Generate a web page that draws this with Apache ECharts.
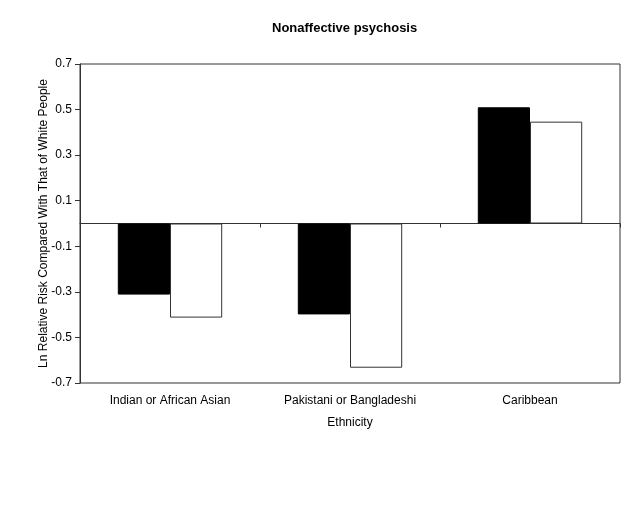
<!DOCTYPE html>
<html>
<head>
<meta charset="utf-8">
<script src="https://cdn.jsdelivr.net/npm/echarts@6/dist/echarts.min.js"></script>
<style>
  html, body { margin: 0; padding: 0; background: #fff; }
  #chart { width: 640px; height: 505px; }
</style>
</head>
<body>
<div id="chart"></div>
<script>
// Chart data
const categories = ['Indian or African Asian', 'Pakistani or Bangladeshi', 'Caribbean'];
const blackSeries = [-0.312, -0.399, 0.51];
const whiteSeries = [-0.413, -0.633, 0.447];
const yTicks = { min: -0.7, max: 0.7, interval: 0.2 };

const fontFamily = 'Liberation Sans, Arial, sans-serif';

const chart = echarts.init(document.getElementById('chart'));

const option = {
    backgroundColor: '#fff',
    animation: false,
    title: {
        text: 'Nonaffective psychosis',
        left: 267,
        top: 17,
        textStyle: { fontFamily, fontSize: 13, fontWeight: 'bold', color: '#000' }
    },
    grid: {
        left: 80,
        right: 20,
        top: 64,
        bottom: 122,
        show: true,
        borderColor: '#333',
        borderWidth: 1
    },
    xAxis: [
        {
            // bottom axis: category labels + axis title
            type: 'category',
            data: categories,
            position: 'bottom',
            axisLine: { show: false, onZero: false },
            axisTick: { show: false },
            axisLabel: { fontFamily, fontSize: 12, color: '#000', margin: 12 },
            name: 'Ethnicity',
            nameLocation: 'middle',
            nameGap: 34,
            nameMoveOverlap: false,
            nameTextStyle: { fontFamily, fontSize: 12, color: '#000' }
        },
        {
            // zero line with tick marks between categories
            type: 'category',
            data: categories,
            position: 'bottom',
            axisLine: { show: true, onZero: true, lineStyle: { color: '#333', width: 1 } },
            axisTick: { show: true, length: 4, lineStyle: { color: '#333' } },
            axisLabel: { show: false }
        }
    ],
    yAxis: {
        type: 'value',
        min: yTicks.min,
        max: yTicks.max,
        interval: yTicks.interval,
        axisLine: { show: true, lineStyle: { color: '#333' } },
        axisTick: { show: true, length: 5, lineStyle: { color: '#333' } },
        splitLine: { show: false },
        axisLabel: {
            fontFamily,
            fontSize: 12,
            color: '#000',
            margin: 8,
            formatter: v => (Math.round(v * 10) / 10).toFixed(1)
        },
        name: 'Ln Relative Risk Compared With That of White People',
        nameLocation: 'middle',
        nameGap: 30,
        nameMoveOverlap: false,
        nameTextStyle: { fontFamily, fontSize: 12, color: '#000' }
    },
    series: [
        {
            type: 'bar',
            data: blackSeries,
            barGap: '0%',
            barCategoryGap: '42%',
            itemStyle: { color: '#000', borderColor: '#000', borderWidth: 1 }
        },
        {
            type: 'bar',
            data: whiteSeries,
            barGap: '0%',
            barCategoryGap: '42%',
            itemStyle: { color: '#fff', borderColor: '#333', borderWidth: 1 }
        }
    ]
};

chart.setOption(option);
</script>
</body>
</html>
